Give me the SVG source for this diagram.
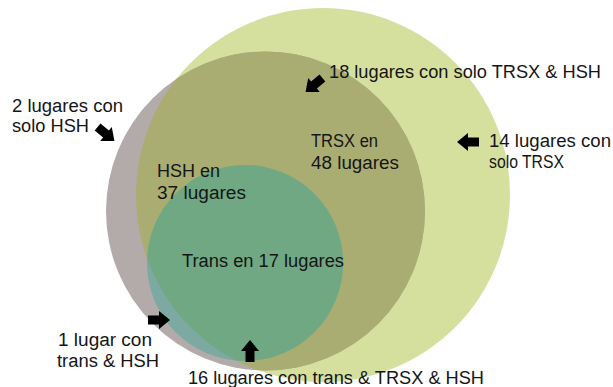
<svg xmlns="http://www.w3.org/2000/svg" width="613" height="387" viewBox="0 0 613 387">
  <style>
    text { font-family: "Liberation Sans", Arial, sans-serif; font-size: 18px; fill: #151515; }
    .arrow { fill: #000; }
  </style>
  <defs>
    <clipPath id="clipTRSX"><circle cx="323" cy="195" r="187"/></clipPath>
    <path id="blockArrow" d="M-11,-4.5 L0,-4.5 L0,-9 L11,0 L0,9 L0,4.5 L-11,4.5 Z"/>
  </defs>
  <rect width="613" height="387" fill="#ffffff"/>

  <g id="node-trsx">
    <circle cx="323" cy="195" r="187" fill="#d5e09f"/>
  </g>
  <g id="node-hsh">
    <circle cx="265.5" cy="211" r="159.5" fill="#b3aaaa"/>
    <circle cx="265.5" cy="211" r="159.5" fill="#aaad72" clip-path="url(#clipTRSX)"/>
  </g>
  <g id="node-trans">
    <circle cx="245" cy="263" r="98" fill="#7ca9a2"/>
    <circle cx="245" cy="263" r="98" fill="#70a883" clip-path="url(#clipTRSX)"/>
  </g>

  <g id="labels">
    <text x="12" y="112" textLength="111" lengthAdjust="spacingAndGlyphs">2 lugares con</text>
    <text x="12" y="132" textLength="77" lengthAdjust="spacingAndGlyphs">solo HSH</text>
    <text x="329" y="78" textLength="272" lengthAdjust="spacingAndGlyphs">18 lugares con solo TRSX &amp; HSH</text>
    <text x="311" y="147" textLength="67" lengthAdjust="spacingAndGlyphs">TRSX en</text>
    <text x="311" y="169" textLength="88" lengthAdjust="spacingAndGlyphs">48 lugares</text>
    <text x="489" y="147" textLength="122" lengthAdjust="spacingAndGlyphs">14 lugares con</text>
    <text x="489" y="168" textLength="75" lengthAdjust="spacingAndGlyphs">solo TRSX</text>
    <text x="157" y="177" textLength="63" lengthAdjust="spacingAndGlyphs">HSH en</text>
    <text x="157" y="199" textLength="89" lengthAdjust="spacingAndGlyphs">37 lugares</text>
    <text x="182" y="267" textLength="162" lengthAdjust="spacingAndGlyphs">Trans en 17 lugares</text>
    <text x="58" y="346" textLength="94" lengthAdjust="spacingAndGlyphs">1 lugar con</text>
    <text x="57" y="367" textLength="102" lengthAdjust="spacingAndGlyphs">trans &amp; HSH</text>
    <text x="188" y="384" textLength="296" lengthAdjust="spacingAndGlyphs">16 lugares con trans &amp; TRSX &amp; HSH</text>
  </g>

  <g id="connectors">
    <use href="#blockArrow" class="arrow" transform="translate(106,134) rotate(40)"/>
    <use href="#blockArrow" class="arrow" transform="translate(314,85) rotate(140)"/>
    <use href="#blockArrow" class="arrow" transform="translate(468,142) rotate(180)"/>
    <use href="#blockArrow" class="arrow" transform="translate(159,320)"/>
    <use href="#blockArrow" class="arrow" transform="translate(250,351) rotate(-90)"/>
  </g>
</svg>
